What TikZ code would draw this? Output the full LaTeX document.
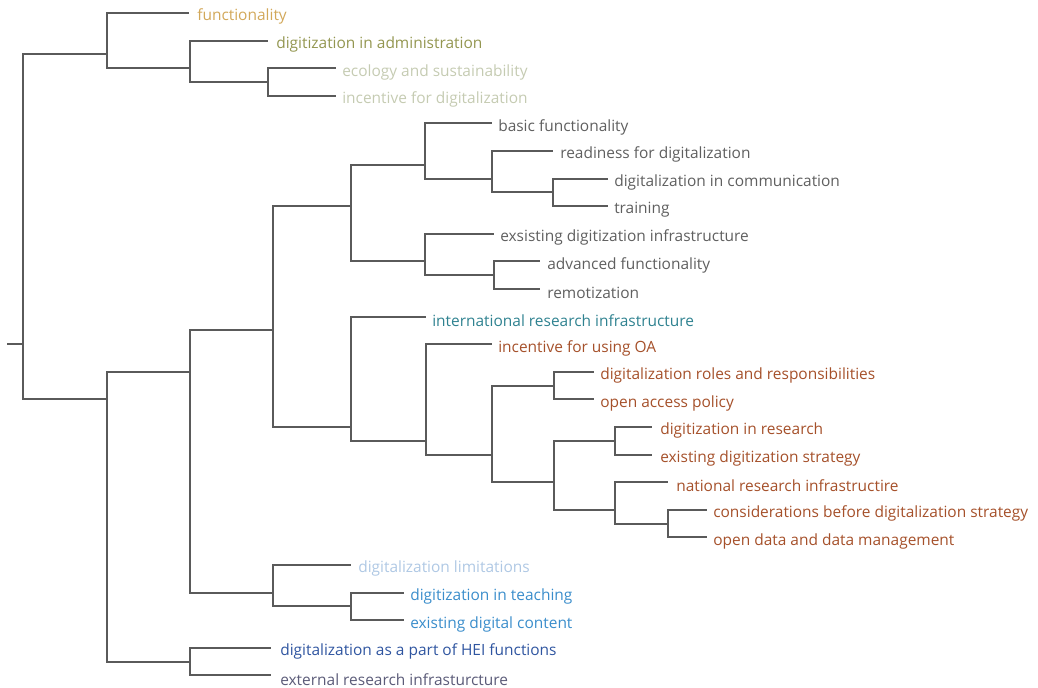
\documentclass[tikz,border=0pt]{standalone}
\usepackage{fontspec}
\setmainfont{Open Sans}
\definecolor{cgold}{HTML}{D2A85A}
\definecolor{colive}{HTML}{939650}
\definecolor{cpale}{HTML}{C5CBB2}
\definecolor{cgray}{HTML}{5F5F5F}
\definecolor{cteal}{HTML}{2F8290}
\definecolor{cbrown}{HTML}{A5502A}
\definecolor{clblue}{HTML}{AFC8E4}
\definecolor{cblue}{HTML}{3A8DCB}
\definecolor{cdblue}{HTML}{2F55A0}
\definecolor{cpurple}{HTML}{5B5B78}
\definecolor{cline}{HTML}{5A5A5A}
\tikzset{
  leaf/.style={anchor=west, inner sep=0pt, font=\fontsize{11.6}{13}\selectfont},
  branch/.style={draw=cline, line width=1.4pt, line cap=rect},
}
\begin{document}
\begin{tikzpicture}[x=0.75pt,y=-0.75pt]
\useasboundingbox (0,0) rectangle (1038,688);
% internal nodes
\coordinate (stub) at (8,344.2);
\coordinate (root) at (23,344.2);
\coordinate (C) at (107,54.4);
\coordinate (B) at (190,68.2);
\coordinate (A) at (268,82.0);
\coordinate (D) at (107,399.4);
\coordinate (E) at (190,371.8);
\coordinate (F) at (190,661.6);
\coordinate (G) at (273,330.4);
\coordinate (H) at (273,592.6);
\coordinate (W) at (351,606.4);
\coordinate (I) at (351,206.2);
\coordinate (K) at (425,164.8);
\coordinate (M) at (492,178.6);
\coordinate (N) at (553,192.4);
\coordinate (L) at (425,261.4);
\coordinate (O) at (494,275.2);
\coordinate (J) at (351,427.0);
\coordinate (P) at (426,440.8);
\coordinate (Q) at (492,454.6);
\coordinate (R) at (554,385.6);
\coordinate (S) at (554,482.2);
\coordinate (T) at (615,440.8);
\coordinate (U) at (615,509.8);
\coordinate (V) at (668,523.6);
% leaf line ends
\coordinate (e1) at (188,13.0);
\coordinate (e2) at (267,40.6);
\coordinate (e3) at (335,68.2);
\coordinate (e4) at (335,95.8);
\coordinate (e5) at (491,123.4);
\coordinate (e6) at (552,151.0);
\coordinate (e7) at (607,178.6);
\coordinate (e8) at (607,206.2);
\coordinate (e9) at (493,233.8);
\coordinate (e10) at (539,261.4);
\coordinate (e11) at (539,289.0);
\coordinate (e12) at (425,316.6);
\coordinate (e13) at (491,344.2);
\coordinate (e14) at (593,371.8);
\coordinate (e15) at (593,399.4);
\coordinate (e16) at (651,427.0);
\coordinate (e17) at (651,454.6);
\coordinate (e18) at (667,482.2);
\coordinate (e19) at (706,509.8);
\coordinate (e20) at (706,537.4);
\coordinate (e21) at (350,565.0);
\coordinate (e22) at (403,592.6);
\coordinate (e23) at (403,620.2);
\coordinate (e24) at (270,647.8);
\coordinate (e25) at (270,675.4);
% leaf labels
\node[leaf,text=cgold]   (t1)  at (197,16.8)  {functionality};
\node[leaf,text=colive]  (t2)  at (276,44.4)  {digitization in administration};
\node[leaf,text=cpale]   (t3)  at (342,72.0)  {ecology and sustainability};
\node[leaf,text=cpale]   (t4)  at (342,99.6)  {incentive for digitalization};
\node[leaf,text=cgray]   (t5)  at (498,127.2) {basic functionality};
\node[leaf,text=cgray]   (t6)  at (560,154.8) {readiness for digitalization};
\node[leaf,text=cgray]   (t7)  at (614,182.4) {digitalization in communication};
\node[leaf,text=cgray]   (t8)  at (614,210.0) {training};
\node[leaf,text=cgray]   (t9)  at (500,237.6) {exsisting digitization infrastructure};
\node[leaf,text=cgray]   (t10) at (547,265.2) {advanced functionality};
\node[leaf,text=cgray]   (t11) at (547,292.8) {remotization};
\node[leaf,text=cteal]   (t12) at (432,320.4) {international research infrastructure};
\node[leaf,text=cbrown]  (t13) at (498,348.0) {incentive for using OA};
\node[leaf,text=cbrown]  (t14) at (600,375.6) {digitalization roles and responsibilities};
\node[leaf,text=cbrown]  (t15) at (600,403.2) {open access policy};
\node[leaf,text=cbrown]  (t16) at (660,430.8) {digitization in research};
\node[leaf,text=cbrown]  (t17) at (660,458.4) {existing digitization strategy};
\node[leaf,text=cbrown]  (t18) at (676,486.0) {national research infrastructire};
\node[leaf,text=cbrown]  (t19) at (713,513.6) {considerations before digitalization strategy};
\node[leaf,text=cbrown]  (t20) at (713,541.2) {open data and data management};
\node[leaf,text=clblue]  (t21) at (358,568.8) {digitalization limitations};
\node[leaf,text=cblue]   (t22) at (410,596.4) {digitization in teaching};
\node[leaf,text=cblue]   (t23) at (410,624.0) {existing digital content};
\node[leaf,text=cdblue]  (t24) at (280,651.6) {digitalization as a part of HEI functions};
\node[leaf,text=cpurple] (t25) at (280,679.2) {external research infrasturcture};
% branches
\draw[branch] (stub) -- (root);
\draw[branch] (root) |- (C);
\draw[branch] (root) |- (D);
\draw[branch] (C) |- (e1);
\draw[branch] (C) |- (B);
\draw[branch] (B) |- (e2);
\draw[branch] (B) |- (A);
\draw[branch] (A) |- (e3);
\draw[branch] (A) |- (e4);
\draw[branch] (D) |- (E);
\draw[branch] (D) |- (F);
\draw[branch] (F) |- (e24);
\draw[branch] (F) |- (e25);
\draw[branch] (E) |- (G);
\draw[branch] (E) |- (H);
\draw[branch] (H) |- (e21);
\draw[branch] (H) |- (W);
\draw[branch] (W) |- (e22);
\draw[branch] (W) |- (e23);
\draw[branch] (G) |- (I);
\draw[branch] (G) |- (J);
\draw[branch] (I) |- (K);
\draw[branch] (I) |- (L);
\draw[branch] (K) |- (e5);
\draw[branch] (K) |- (M);
\draw[branch] (M) |- (e6);
\draw[branch] (M) |- (N);
\draw[branch] (N) |- (e7);
\draw[branch] (N) |- (e8);
\draw[branch] (L) |- (e9);
\draw[branch] (L) |- (O);
\draw[branch] (O) |- (e10);
\draw[branch] (O) |- (e11);
\draw[branch] (J) |- (e12);
\draw[branch] (J) |- (P);
\draw[branch] (P) |- (e13);
\draw[branch] (P) |- (Q);
\draw[branch] (Q) |- (R);
\draw[branch] (Q) |- (S);
\draw[branch] (R) |- (e14);
\draw[branch] (R) |- (e15);
\draw[branch] (S) |- (T);
\draw[branch] (S) |- (U);
\draw[branch] (T) |- (e16);
\draw[branch] (T) |- (e17);
\draw[branch] (U) |- (e18);
\draw[branch] (U) |- (V);
\draw[branch] (V) |- (e19);
\draw[branch] (V) |- (e20);
\end{tikzpicture}
\end{document}
